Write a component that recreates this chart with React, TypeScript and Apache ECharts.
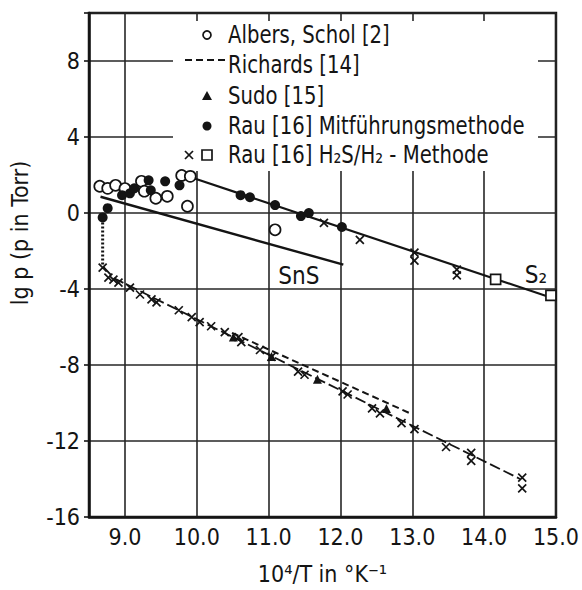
import { useEffect, useRef } from "react";
import * as echarts from "echarts";

type Pt = [number, number];

// Albers, Schol [2] – open circles
const albersSchol: Pt[] = [
  [8.65, 1.39], [8.76, 1.28], [8.87, 1.44], [9.0, 1.27], [9.23, 1.65],
  [9.27, 1.13], [9.43, 0.76], [9.59, 0.86], [9.87, 0.34], [9.79, 1.96],
  [9.91, 1.91], [11.09, -0.9],
];

// Sudo [15] – filled triangles
const sudo: Pt[] = [
  [10.51, -6.54], [11.04, -7.56], [11.68, -8.76], [12.64, -10.29],
];

// Rau [16] Mitführungsmethode – filled circles
const rauCarrier: Pt[] = [
  [8.69, -0.25], [8.76, 0.24], [8.96, 0.92], [9.07, 1.02], [9.13, 1.28],
  [9.33, 1.7], [9.36, 1.18], [9.56, 1.65], [9.76, 1.44], [10.61, 0.92],
  [10.74, 0.81], [11.09, 0.4], [11.45, -0.18], [11.56, -0.02], [12.02, -0.75],
];

// Rau [16] H2S/H2-Methode – crosses (S2 branch and SnS branch)
const rauH2SCross: Pt[] = [
  [11.77, -0.54], [12.27, -1.43], [13.03, -2.1], [13.03, -2.52], [13.62, -2.99],
  [13.62, -3.3],
  [8.69, -2.89], [8.77, -3.41], [8.84, -3.52], [8.91, -3.68], [9.07, -3.94],
  [9.21, -4.3], [9.37, -4.56], [9.44, -4.72], [9.75, -5.13], [9.93, -5.49],
  [10.04, -5.75], [10.2, -5.97], [10.39, -6.28], [10.58, -6.54], [10.62, -6.8],
  [10.88, -7.22], [11.04, -7.58], [11.41, -8.36], [11.5, -8.52], [12.03, -9.4],
  [12.1, -9.56], [12.44, -10.29], [12.55, -10.55], [12.85, -11.06], [13.03, -11.38],
  [13.47, -12.32], [13.82, -12.63], [13.82, -13.05], [14.53, -13.93], [14.53, -14.5],
];

// Rau [16] H2S/H2-Methode – open squares on the S2 line
const rauH2SSquare: Pt[] = [[14.16, -3.51], [14.93, -4.35]];

// Fitted curves
const s2Line: Pt[] = [[9.97, 1.8], [15.0, -4.55]];
const snsLine: Pt[] = [[8.66, 0.84], [12.04, -2.73]];
const richardsLine: Pt[] = [[10.49, -6.32], [13.0, -10.6]];
const h2sLine: Pt[] = [[8.7, -2.85], [8.85, -3.45], [10.0, -5.6], [14.5, -14.0]];
const dropLine: Pt[] = [[8.69, -0.3], [8.69, -2.8]];

// Curve annotations
const curveLabels: { name: string; value: Pt }[] = [
  { name: "SnS", value: [11.42, -3.35] },
  { name: "S₂", value: [14.72, -3.3] },
];

const legendLabels = [
  "Albers, Schol [2]",
  "Richards [14]",
  "Sudo [15]",
  "Rau [16] Mitführungsmethode",
  "Rau [16] H₂S/H₂ - Methode",
];

const INK = "#141414";
const FONT = "'Liberation Sans Narrow', 'DejaVu Sans Condensed', 'DejaVu Sans', sans-serif";
const CROSS = "path://M0,0L10,10M10,0L0,10";

function legendGraphic() {
  const rowY = [35, 63, 96, 126, 155];
  const textX = 228;
  const children: any[] = [
    // white panel hiding the grid behind the key
    { type: "rect", z: 1, shape: { x: 173, y: 21, width: 365, height: 150 }, style: { fill: "#fff" } },
    { type: "circle", z: 10, shape: { cx: 207, cy: rowY[0], r: 4 }, style: { fill: "#fff", stroke: INK, lineWidth: 1.7 } },
    { type: "line", z: 10, shape: { x1: 185, y1: 60, x2: 226, y2: 60 }, style: { stroke: INK, lineWidth: 2, lineDash: [7, 4] } },
    { type: "polygon", z: 10, shape: { points: [[207, rowY[2] - 5], [202, rowY[2] + 4], [212, rowY[2] + 4]] }, style: { fill: INK } },
    { type: "circle", z: 10, shape: { cx: 207, cy: rowY[3], r: 4.5 }, style: { fill: INK } },
    { type: "line", z: 10, shape: { x1: 185, y1: rowY[4] - 4, x2: 193, y2: rowY[4] + 4 }, style: { stroke: INK, lineWidth: 1.7 } },
    { type: "line", z: 10, shape: { x1: 185, y1: rowY[4] + 4, x2: 193, y2: rowY[4] - 4 }, style: { stroke: INK, lineWidth: 1.7 } },
    { type: "rect", z: 10, shape: { x: 202, y: rowY[4] - 5, width: 10, height: 10 }, style: { fill: "#fff", stroke: INK, lineWidth: 1.7 } },
  ];
  legendLabels.forEach((t, i) => {
    children.push({
      type: "text",
      z: 10,
      x: textX,
      y: rowY[i] + (i === 1 ? 2 : 0),
      scaleX: 0.82,
      style: {
        text: t,
        fill: INK,
        fontSize: 24,
        fontFamily: "'DejaVu Sans', sans-serif",
        textAlign: "left",
        textVerticalAlign: "middle",
      },
    });
  });
  return children;
}

export default function App() {
  const ref = useRef<HTMLDivElement>(null);

  useEffect(() => {
    if (!ref.current) return;
    const chart = echarts.init(ref.current, undefined, { renderer: "svg" });

    const lineSeries = (data: Pt[], width: number, type: any) => ({
      type: "line",
      data,
      symbol: "none",
      silent: true,
      z: 2,
      lineStyle: { color: INK, width, type, opacity: 1 },
    });

    chart.setOption({
      animation: false,
      backgroundColor: "#fff",
      grid: {
        left: 85,
        right: 20,
        top: 13,
        bottom: 68,
        show: true,
        borderColor: INK,
        borderWidth: 2.5,
        backgroundColor: "transparent",
      },
      xAxis: {
        type: "value",
        min: 8.5,
        max: 15,
        splitNumber: 7,
        axisLine: { show: true, onZero: false, lineStyle: { color: INK, width: 2.5 } },
        axisTick: { show: false },
        axisLabel: {
          formatter: (v: number) => (Number.isInteger(v) ? v.toFixed(1) : ""),
          fontSize: 23,
          fontFamily: FONT,
          color: INK,
          margin: 8,
        },
        splitLine: { show: true, lineStyle: { color: "#262626", width: 1.6 } },
        name: "10⁴/T in °K⁻¹",
        nameLocation: "middle",
        nameGap: 45,
        nameTextStyle: { fontSize: 23, fontFamily: FONT, color: INK },
      },
      yAxis: {
        type: "value",
        min: -16,
        max: 10.5,
        interval: 4,
        axisLine: { show: true, onZero: false, lineStyle: { color: INK, width: 2.5 } },
        axisTick: { show: true, inside: false, length: 5, lineStyle: { color: INK, width: 1.6 } },
        axisLabel: {
          formatter: (v: number) => (Number.isInteger(v) ? String(v) : ""),
          fontSize: 23,
          fontFamily: FONT,
          color: INK,
          margin: 9,
        },
        splitLine: { show: true, lineStyle: { color: "#262626", width: 1.6 } },
        name: "lg p (p in Torr)",
        nameLocation: "middle",
        nameGap: 58,
        nameTextStyle: { fontSize: 23, fontFamily: FONT, color: INK, padding: [0, 0, 0, 64] },
      },
      series: [
        lineSeries(s2Line, 2.2, "solid"),
        lineSeries(snsLine, 2.4, "solid"),
        lineSeries(richardsLine, 2, [7, 4]),
        lineSeries(h2sLine, 1.8, [11, 4]),
        lineSeries(dropLine, 3, [2, 2]),
        {
          type: "scatter",
          name: "Albers, Schol [2]",
          data: albersSchol,
          symbol: "circle",
          symbolSize: 11,
          z: 3,
          itemStyle: { color: "#fff", borderColor: INK, borderWidth: 1.7, opacity: 1 },
        },
        {
          type: "scatter",
          name: "Sudo [15]",
          data: sudo,
          symbol: "triangle",
          symbolSize: 9,
          z: 4,
          itemStyle: { color: INK, opacity: 1 },
        },
        {
          type: "scatter",
          name: "Rau [16] Mitführungsmethode",
          data: rauCarrier,
          symbol: "circle",
          symbolSize: 10,
          z: 4,
          itemStyle: { color: INK, opacity: 1 },
        },
        {
          type: "scatter",
          name: "Rau [16] H₂S/H₂ - Methode",
          data: rauH2SCross,
          symbol: CROSS,
          symbolSize: 8,
          z: 4,
          itemStyle: { color: "transparent", borderColor: INK, borderWidth: 1.7, opacity: 1 },
        },
        {
          type: "scatter",
          name: "Rau [16] H₂S/H₂ - Methode (□)",
          data: rauH2SSquare,
          symbol: "rect",
          symbolSize: 10,
          z: 4,
          itemStyle: { color: "#fff", borderColor: INK, borderWidth: 1.7, opacity: 1 },
        },
        {
          type: "scatter",
          data: curveLabels,
          symbolSize: 0,
          silent: true,
          itemStyle: { color: INK, opacity: 1 },
          label: {
            show: true,
            position: "inside",
            formatter: "{b}",
            fontSize: 24,
            fontFamily: FONT,
            color: INK,
            textBorderWidth: 0,
            opacity: 1,
          },
        },
      ],
      graphic: legendGraphic(),
    });

    return () => chart.dispose();
  }, []);

  return (
    <div
      ref={ref}
      style={{ position: "fixed", left: 0, top: 0, width: 582, height: 590, background: "#fff" }}
    />
  );
}
